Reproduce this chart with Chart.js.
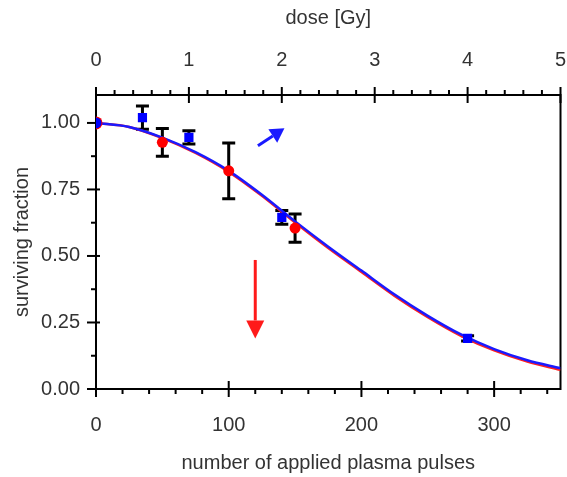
<!DOCTYPE html>
<html>
<head>
<meta charset="utf-8">
<script src="https://cdn.jsdelivr.net/npm/chart.js@4"></script>
<style>
  html, body { margin: 0; padding: 0; background: #fff; }
  #wrap { width: 567px; height: 477px; }
</style>
</head>
<body>
<div id="wrap"><canvas id="c"></canvas></div>
<script>
// fitted curves, every 25 pulses
const pulses = [0, 25, 50, 75, 100, 125, 150, 175, 200, 225, 250, 275, 300, 325, 350];
const fitBlue = [1.00, 0.985, 0.945, 0.89, 0.82, 0.73, 0.63, 0.535, 0.445, 0.355, 0.275, 0.205, 0.15, 0.108, 0.078];
const fitRed = [1.00, 0.985, 0.943, 0.887, 0.816, 0.726, 0.626, 0.53, 0.44, 0.35, 0.27, 0.20, 0.145, 0.103, 0.072];

// measured points with error
const bluePulses = [0, 35, 70, 140, 280];
const blueSF = [1.00, 1.02, 0.946, 0.645, 0.19];
const blueErr = [0, 0.044, 0.025, 0.026, 0.01];
const redPulses = [0, 50, 100, 150];
const redSF = [1.00, 0.927, 0.82, 0.605];
const redErr = [0, 0.052, 0.105, 0.053];

// arrows (pulses, surviving fraction): from -> to
const blueArrow = [[122, 0.914], [142, 0.98]];
const redArrow = [[120, 0.485], [120, 0.19]];

// axis ranges and tick steps
const xRange = [0, 350], xMajor = 100, xMinor = 20;
const doseRange = [0, 5], doseMajor = 1, doseMinor = 0.2;
const yRange = [0, 1.105], yMajor = 0.25, yMinor = 0.125;

const pts = (xs, ys) => xs.map((x, i) => ({ x: x, y: ys[i] }));

Chart.defaults.font.family = "'Liberation Sans', Arial, sans-serif";
Chart.defaults.font.size = 20;
Chart.defaults.color = '#333';

function arrow(ctx, sx, sy, from, to, color, lw, headLen, headW) {
  const x1 = sx.getPixelForValue(from[0]), y1 = sy.getPixelForValue(from[1]);
  const x2 = sx.getPixelForValue(to[0]), y2 = sy.getPixelForValue(to[1]);
  const ang = Math.atan2(y2 - y1, x2 - x1);
  const bx = x2 - headLen * Math.cos(ang), by = y2 - headLen * Math.sin(ang);
  ctx.strokeStyle = color; ctx.fillStyle = color; ctx.lineWidth = lw;
  ctx.beginPath(); ctx.moveTo(x1, y1); ctx.lineTo(bx, by); ctx.stroke();
  ctx.beginPath();
  ctx.moveTo(x2, y2);
  ctx.lineTo(bx + headW / 2 * Math.sin(ang), by - headW / 2 * Math.cos(ang));
  ctx.lineTo(bx - headW / 2 * Math.sin(ang), by + headW / 2 * Math.cos(ang));
  ctx.closePath(); ctx.fill();
}

const errorBars = {
  id: 'errorBars',
  beforeDatasetsDraw(chart) {
    const { ctx, scales } = chart;
    ctx.save();
    ctx.strokeStyle = '#000';
    ctx.lineWidth = 3;
    const draw = (xs, ys, es) => xs.forEach((x, i) => {
      if (!es[i]) return;
      const px = scales.x.getPixelForValue(x);
      const top = scales.y.getPixelForValue(ys[i] + es[i]);
      const bot = scales.y.getPixelForValue(ys[i] - es[i]);
      ctx.beginPath();
      ctx.moveTo(px, top); ctx.lineTo(px, bot);
      ctx.moveTo(px - 6.5, top); ctx.lineTo(px + 6.5, top);
      ctx.moveTo(px - 6.5, bot); ctx.lineTo(px + 6.5, bot);
      ctx.stroke();
    });
    draw(bluePulses, blueSF, blueErr);
    draw(redPulses, redSF, redErr);
    ctx.restore();
  }
};

const frame = {
  id: 'frame',
  beforeDatasetsDraw(chart) {
    const { ctx, chartArea: a, scales } = chart;
    ctx.save();
    ctx.strokeStyle = '#000';
    ctx.lineWidth = 2;
    ctx.strokeRect(a.left, a.top, a.right - a.left, a.bottom - a.top);
    const line = (x1, y1, x2, y2) => { ctx.beginPath(); ctx.moveTo(x1, y1); ctx.lineTo(x2, y2); ctx.stroke(); };
    // bottom: pulses
    for (let v = xRange[0]; v <= xRange[1] + 1e-6; v += xMinor) {
      const px = scales.x.getPixelForValue(v);
      const major = Math.abs(v / xMajor - Math.round(v / xMajor)) < 1e-6;
      line(px, a.bottom - (major ? 8 : 0), px, a.bottom + (major ? 8 : 5));
    }
    // top: dose
    for (let i = 0; i * doseMinor <= doseRange[1] + 1e-6; i++) {
      const v = i * doseMinor;
      const px = scales.x2.getPixelForValue(v);
      const major = Math.abs(v / doseMajor - Math.round(v / doseMajor)) < 1e-6;
      line(px, a.top + (major ? 8 : 0), px, a.top - (major ? 8 : 5));
    }
    // left: surviving fraction
    for (let i = 0; i * yMinor <= yRange[1]; i++) {
      const v = i * yMinor;
      const py = scales.y.getPixelForValue(v);
      const major = Math.abs(v / yMajor - Math.round(v / yMajor)) < 1e-6;
      line(a.left - (major ? 9 : 5), py, a.left + (major ? 4 : 0), py);
    }
    ctx.restore();
  },
  afterDatasetsDraw(chart) {
    const { ctx, scales } = chart;
    ctx.save();
    arrow(ctx, scales.x, scales.y, blueArrow[0], blueArrow[1], '#1a1aff', 3, 14, 16);
    arrow(ctx, scales.x, scales.y, redArrow[0], redArrow[1], '#ff1a1a', 3, 18, 18);
    ctx.restore();
  }
};

// keep the plot box where the reference has it
const noEdgePad = s => { s.paddingLeft = 0; s.paddingRight = 0; s.paddingTop = 0; s.paddingBottom = 0; };

new Chart(document.getElementById('c'), {
  type: 'scatter',
  data: {
    datasets: [
      {
        label: 'blue data', data: pts(bluePulses, blueSF), order: 0,
        backgroundColor: '#0000ff', borderWidth: 0,
        pointStyle: ['circle', 'rect', 'rect', 'rect', 'rect'], pointRadius: [5.5, 6.5, 6.5, 6.5, 6.5]
      },
      {
        label: 'red data', data: pts(redPulses, redSF), order: 1,
        backgroundColor: '#ff0000', borderWidth: 0, pointStyle: 'circle', pointRadius: [6.5, 5.5, 5.5, 5.5]
      },
      {
        label: 'blue fit', data: pts(pulses, fitBlue), order: 2, showLine: true,
        borderColor: '#1a1aff', borderWidth: 2.5, pointRadius: 0, cubicInterpolationMode: 'monotone'
      },
      {
        label: 'red fit', data: pts(pulses, fitRed), order: 3, showLine: true,
        borderColor: '#ff2020', borderWidth: 2.5, pointRadius: 0, cubicInterpolationMode: 'monotone'
      }
    ]
  },
  options: {
    responsive: true,
    maintainAspectRatio: false,
    devicePixelRatio: 1,
    animation: false,
    layout: { padding: { left: 0, right: 5, top: 0, bottom: 0 } },
    plugins: { legend: { display: false }, tooltip: { enabled: false } },
    scales: {
      x: {
        position: 'bottom', min: xRange[0], max: xRange[1],
        grid: { display: false, drawTicks: false }, border: { display: false },
        ticks: {
          stepSize: xMajor, padding: 24, maxRotation: 0,
          callback: v => (v % xMajor === 0 ? String(v) : '')
        },
        title: { display: true, text: 'number of applied plasma pulses', padding: { top: 0, bottom: 2 } },
        afterFit: s => { s.height = 88; noEdgePad(s); }
      },
      x2: {
        position: 'top', axis: 'x', min: doseRange[0], max: doseRange[1],
        grid: { display: false, drawTicks: false }, border: { display: false },
        ticks: { stepSize: doseMajor, padding: 23, maxRotation: 0 },
        title: { display: true, text: 'dose [Gy]', padding: { top: 6, bottom: 0 } },
        afterFit: s => { s.height = 95; noEdgePad(s); }
      },
      y: {
        position: 'left', min: yRange[0], max: yRange[1],
        grid: { display: false, drawTicks: false }, border: { display: false },
        ticks: {
          stepSize: yMajor, padding: 16,
          callback: v => (Math.abs(v / yMajor - Math.round(v / yMajor)) < 1e-6 ? v.toFixed(2) : '')
        },
        title: { display: true, text: 'surviving fraction', padding: { top: 10, bottom: 0 } },
        afterFit: s => { s.width = 96; noEdgePad(s); }
      }
    }
  },
  plugins: [errorBars, frame]
});
</script>
</body>
</html>
